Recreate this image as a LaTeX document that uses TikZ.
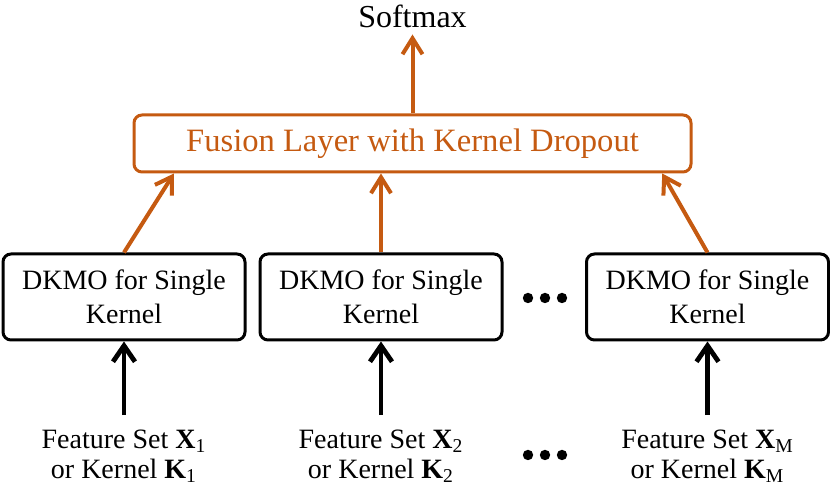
\documentclass[tikz,border=0pt]{standalone}
\usepackage{fontspec}
\setmainfont{Liberation Serif}
\usepackage{xcolor}
\usepackage{tikz}
\usetikzlibrary{positioning,calc,arrows.meta}
\definecolor{fuseorange}{RGB}{197,90,17}

\begin{document}
\begin{tikzpicture}[x=0.5pt,y=0.5pt,
    dkmo/.style={draw, line width=1.5pt, rounded corners=4pt, minimum width=121pt, minimum height=43pt, align=center, font=\fontsize{14}{17}\selectfont},
    feat/.style={align=center, inner sep=7pt, font=\fontsize{14}{15}\selectfont},
    inarrow/.style={line width=2.4pt, -{Straight Barb[length=8pt,width=11pt]}},
    outarrow/.style={fuseorange, line width=2pt, -{Straight Barb[length=8pt,width=10pt]}}]
    \useasboundingbox (0,0) rectangle (830,490);
    % Fusion et softmax
    \node[draw=fuseorange, line width=1.5pt, rounded corners=4pt, minimum width=278.5pt, minimum height=28.5pt, text=fuseorange, font=\fontsize{16.3}{19}\selectfont] (fusion) at (412.5,346.5) {Fusion Layer with Kernel Dropout};
    \node[font=\fontsize{16}{19}\selectfont] (softmax) at (412.5,474) {Softmax};
    \draw[outarrow] (fusion.north) -- (softmax.south);
    % DKMO
    \node[dkmo] (box1) at (124,193) {DKMO for Single\\Kernel};
    \node[dkmo] (box2) at (381,193) {DKMO for Single\\Kernel};
    \node[dkmo] (box3) at (707.5,193) {DKMO for Single\\Kernel};
    \coordinate (f1) at ($(fusion.south west)!0.074!(fusion.south east)$);
    \coordinate (f3) at ($(fusion.south west)!0.946!(fusion.south east)$);
    \draw[outarrow] (box1.north) -- (f1);
    \draw[outarrow] (box2.north) -- (box2.north |- fusion.south);
    \draw[outarrow] (box3.north) -- (f3);
    % Entrees
    \node[feat] (feat1) at (124,34) {Feature Set \textbf{X}\textsubscript{1}\\or Kernel \textbf{K}\textsubscript{1}};
    \node[feat] (feat2) at (381,34) {Feature Set \textbf{X}\textsubscript{2}\\or Kernel \textbf{K}\textsubscript{2}};
    \node[feat] (feat3) at (707.5,34) {Feature Set \textbf{X}\textsubscript{M}\\or Kernel \textbf{K}\textsubscript{M}};
    \draw[inarrow] (feat1.north) -- (box1.south);
    \draw[inarrow] (feat2.north) -- (box2.south);
    \draw[inarrow] (feat3.north) -- (box3.south);
    % points
    \foreach \dx in {-17,0,17} {
        \fill (545+\dx,192) circle (2.6pt);
        \fill (545+\dx,35) circle (2.6pt);
    }
\end{tikzpicture}
\end{document}
